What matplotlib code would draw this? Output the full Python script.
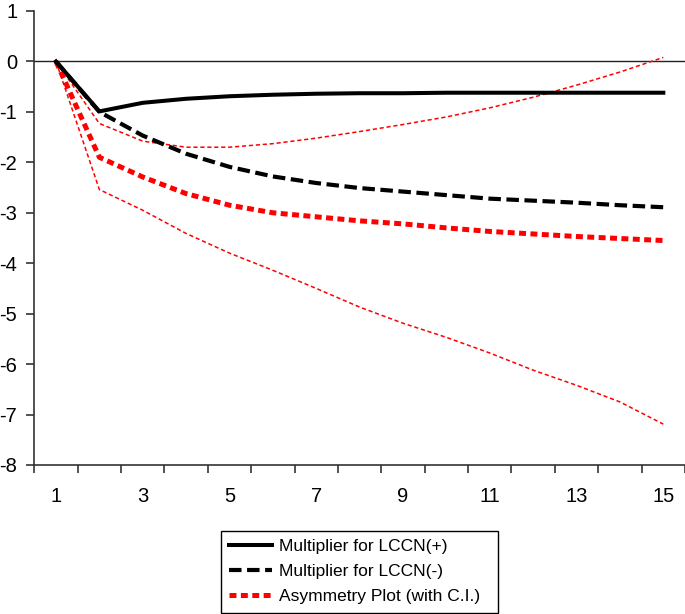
import matplotlib
matplotlib.use("Agg")
import matplotlib.pyplot as plt
from matplotlib.patches import Rectangle

plt.rcParams['font.family'] = ['Liberation Sans', 'DejaVu Sans']
plt.rcParams['lines.scale_dashes'] = False

periods = list(range(1, 16))
mult_pos = [0, -0.99, -0.82, -0.74, -0.69, -0.66, -0.64, -0.63, -0.63, -0.62, -0.62, -0.62, -0.62, -0.62, -0.62]
mult_neg = [0, -1.0, -1.47, -1.83, -2.09, -2.28, -2.41, -2.51, -2.58, -2.65, -2.72, -2.76, -2.80, -2.85, -2.89]
asym = [0, -1.9, -2.29, -2.62, -2.85, -3.0, -3.08, -3.16, -3.22, -3.3, -3.37, -3.42, -3.47, -3.51, -3.55]
ci_upper = [0, -1.23, -1.58, -1.70, -1.70, -1.63, -1.52, -1.39, -1.25, -1.10, -0.92, -0.71, -0.47, -0.21, 0.08]
ci_lower = [0, -2.54, -2.95, -3.41, -3.80, -4.14, -4.50, -4.87, -5.19, -5.47, -5.78, -6.12, -6.42, -6.75, -7.19]
x_labels = ['1', '3', '5', '7', '9', '11', '13', '15']
legend_labels = ['Multiplier for LCCN(+)', 'Multiplier for LCCN(-)', 'Asymmetry Plot (with C.I.)']

W, H = 685, 614
fig = plt.figure(figsize=(W / 100, H / 100), dpi=100)
ax = fig.add_axes([34.3 / W, 1 - 465 / H, 1 - 34.3 / W, (465 - 11) / H])

ax.axhline(0, color='#222222', lw=1.0, zorder=1)

l1, = ax.plot(periods, mult_pos, color='black', lw=2.9, zorder=4)
l2, = ax.plot(periods, mult_neg, color='black', lw=3.0, zorder=3)
l2.set_dashes((9, 4))
l3, = ax.plot(periods, asym, color='#ff0000', lw=3.6, zorder=2)
l3.set_dashes((5, 3.2))
l4, = ax.plot(periods, ci_upper, color='#ff0000', lw=1.1, zorder=2)
l4.set_dashes((3, 2))
l5, = ax.plot(periods, ci_lower, color='#ff0000', lw=1.1, zorder=2)
l5.set_dashes((3, 2))

ax.set_xlim(0.5, 15.5)
ax.set_ylim(-8, 1)
ax.set_yticks(range(-8, 2))
ax.set_yticklabels([str(v) for v in range(-8, 2)])
ax.set_xticks([int(s) for s in x_labels])
ax.set_xticklabels(x_labels)
ax.set_xticks([v + 0.5 for v in range(0, 16)], minor=True)
ax.tick_params(axis='x', which='major', length=0, pad=16, labelsize=14.5)
ax.tick_params(axis='x', which='minor', length=5.8, width=1.2, color='#333333', direction='out')
ax.tick_params(axis='y', which='major', length=5.8, width=1.2, color='#333333', pad=6.5, labelsize=14.5)

for s in ['top', 'right']:
    ax.spines[s].set_visible(False)
for s in ['left', 'bottom']:
    ax.spines[s].set_color('#333333')
    ax.spines[s].set_linewidth(1.2)

leg = fig.legend([l1, l2, l3], legend_labels, loc='upper left',
                 bbox_to_anchor=(223 / W, 1 - 533 / H), bbox_transform=fig.transFigure,
                 borderaxespad=0, frameon=False, fontsize=12.5,
                 handlelength=2.5, handletextpad=0.35, labelspacing=0.56,
                 borderpad=0.35)
fig.add_artist(Rectangle((221 / W, 1 - 613 / H), (498 - 221) / W, (613 - 531) / H,
                         transform=fig.transFigure, fill=False, edgecolor='black', lw=1.0))

fig.savefig('out.png', dpi=100)
